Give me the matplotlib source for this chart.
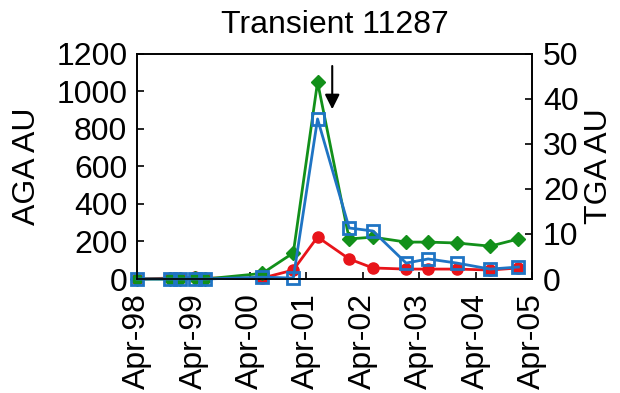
import matplotlib.pyplot as plt

plt.rcParams['font.family'] = ['Liberation Sans', 'DejaVu Sans']

# sample times, in years after Apr-98
years = [0.0, 0.59, 0.76, 1.03, 1.2, 2.22, 2.77, 3.2, 3.76, 4.18, 4.77, 5.16, 5.67, 6.26, 6.76]
# AGA series (left axis)
aga_red = [0, 5, 5, 10, 5, 5, 48, 224, 107, 59, 53, 53, 53, 48, 59]
aga_blue = [0, 0, 0, 0, 0, 10, 5, 853, 272, 256, 85, 107, 85, 53, 64]
# TGA series (right axis)
tga_green = [0, 0, 0, 0.2, 0, 1.25, 5.8, 43.75, 8.9, 9.3, 8.2, 8.2, 8.0, 7.3, 8.9]

tick_labels = ["Apr-98", "Apr-99", "Apr-00", "Apr-01", "Apr-02", "Apr-03", "Apr-04", "Apr-05"]

red = "#e8141a"
blue = "#1f74c4"
green = "#12901a"
fs = 23

fig, ax = plt.subplots(figsize=(6.2, 3.93), dpi=100)
fig.subplots_adjust(left=0.221, right=0.858, top=0.863, bottom=0.29)
ax2 = ax.twinx()

ax.plot(years, aga_red, color=red, lw=2, marker="o", ms=8, clip_on=False, zorder=2)
ax2.plot(years, tga_green, color=green, lw=2, marker="D", ms=7, clip_on=False)
ax2.plot(years, [v / 24 for v in aga_blue], color=blue, lw=2,
         marker="s", ms=8, mfc="none", mew=2, clip_on=False)

ax.set_xlim(0, 7)
ax.set_ylim(0, 1200)
ax2.set_ylim(0, 50)
ax.set_yticks(range(0, 1201, 200))
ax2.set_yticks(range(0, 51, 10))
ax.set_xticks(range(8))
ax.set_xticklabels(tick_labels, rotation=90)

ax.tick_params(direction="in", labelsize=fs, length=5, width=1.2, pad=7)
ax.tick_params(axis="x", pad=10)
ax2.tick_params(direction="in", labelsize=fs, length=5, width=1.2, pad=8)
ax.set_ylabel("AGA AU", fontsize=fs, labelpad=10)
ax2.set_ylabel("TGA AU", fontsize=fs, labelpad=4)
ax.set_title("Transient 11287", fontsize=fs, pad=15)

for a in (ax, ax2):
    for s in a.spines.values():
        s.set_linewidth(1.2)

ax.annotate("", xy=(3.46, 890), xytext=(3.46, 1150),
            arrowprops=dict(arrowstyle="-|>", color="black", lw=1.5, mutation_scale=22))

fig.savefig("out.png")
